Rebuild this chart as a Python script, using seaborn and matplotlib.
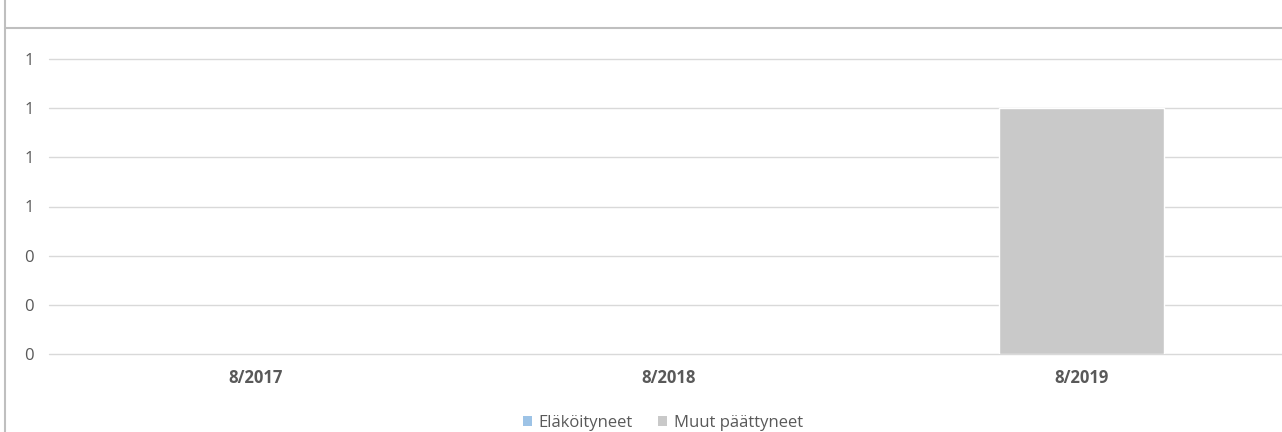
import matplotlib
matplotlib.use("Agg")
import matplotlib.pyplot as plt
import seaborn as sns
import pandas as pd
from matplotlib.patches import Patch
from matplotlib.lines import Line2D

categories = ["8/2017", "8/2018", "8/2019"]
elakoityneet = [0, 0, 0]
muut_paattyneet = [0, 0, 1]
series_names = ["Eläköityneet", "Muut päättyneet"]
y_ticks = [0, 0.2, 0.4, 0.6, 0.8, 1.0, 1.2]
y_tick_labels = ["0", "0", "0", "1", "1", "1", "1"]

colors = {"Eläköityneet": "#9DC3E6", "Muut päättyneet": "#C9C9C9"}

sns.set_theme(style="white")
plt.rcParams['font.family'] = ['Open Sans', 'DejaVu Sans']

W, H = 1282, 432
fig = plt.figure(figsize=(W / 100, H / 100), dpi=100)
left, right_px = 49, 49 + 413 * 3
ax = fig.add_axes([left / W, (H - 354) / H, (right_px - left) / W, (354 - 59) / H])

df = pd.DataFrame({
    "category": categories,
    "Eläköityneet": elakoityneet,
    "Muut päättyneet": muut_paattyneet,
})
df["total"] = df["Eläköityneet"] + df["Muut päättyneet"]

# stacked: draw total (top segment colour) then bottom series over it
sns.barplot(data=df, x="category", y="total", color=colors["Muut päättyneet"],
            width=0.4, saturation=1, edgecolor="white", linewidth=1, ax=ax, zorder=2)
sns.barplot(data=df, x="category", y="Eläköityneet", color=colors["Eläköityneet"],
            width=0.4, saturation=1, edgecolor="white", linewidth=1, ax=ax, zorder=3)
for p in ax.patches:
    if p.get_height() == 0:
        p.set_linewidth(0)
        p.set_visible(False)

ax.set_xlim(-0.5, 2.5)
ax.set_ylim(0, 1.2)
ax.set_yticks(y_ticks)
ax.set_yticklabels(y_tick_labels)
ax.yaxis.grid(True, color="#D9D9D9", linewidth=1)
for gl in ax.get_ygridlines():
    gl.set_clip_on(False)
ax.set_axisbelow(True)
for s in ax.spines.values():
    s.set_visible(False)
ax.tick_params(axis="both", length=0, colors="#595959")
ax.tick_params(axis="y", pad=11, labelsize=12)
ax.tick_params(axis="x", pad=11, labelsize=12)
for lbl in ax.get_xticklabels():
    lbl.set_fontweight("bold")
ax.set_xlabel("")
ax.set_ylabel("")

handles = [Patch(facecolor=colors[n], edgecolor="none", label=n) for n in series_names]
leg = fig.legend(handles=handles, loc="center", bbox_to_anchor=(663 / W, 1 - 423 / H),
                 ncol=2, frameon=False, fontsize=12, handlelength=0.55, handleheight=0.55,
                 handletextpad=0.4, columnspacing=1.5, labelcolor="#595959")

# outer chart border fragments
fig.add_artist(Line2D([5 / W, 5 / W], [0, 1], transform=fig.transFigure,
                      color="#BFBFBF", linewidth=1.5))
fig.add_artist(Line2D([5 / W, 1], [1 - 28 / H, 1 - 28 / H], transform=fig.transFigure,
                      color="#BFBFBF", linewidth=1.5))

fig.savefig("out.png", dpi=100)
